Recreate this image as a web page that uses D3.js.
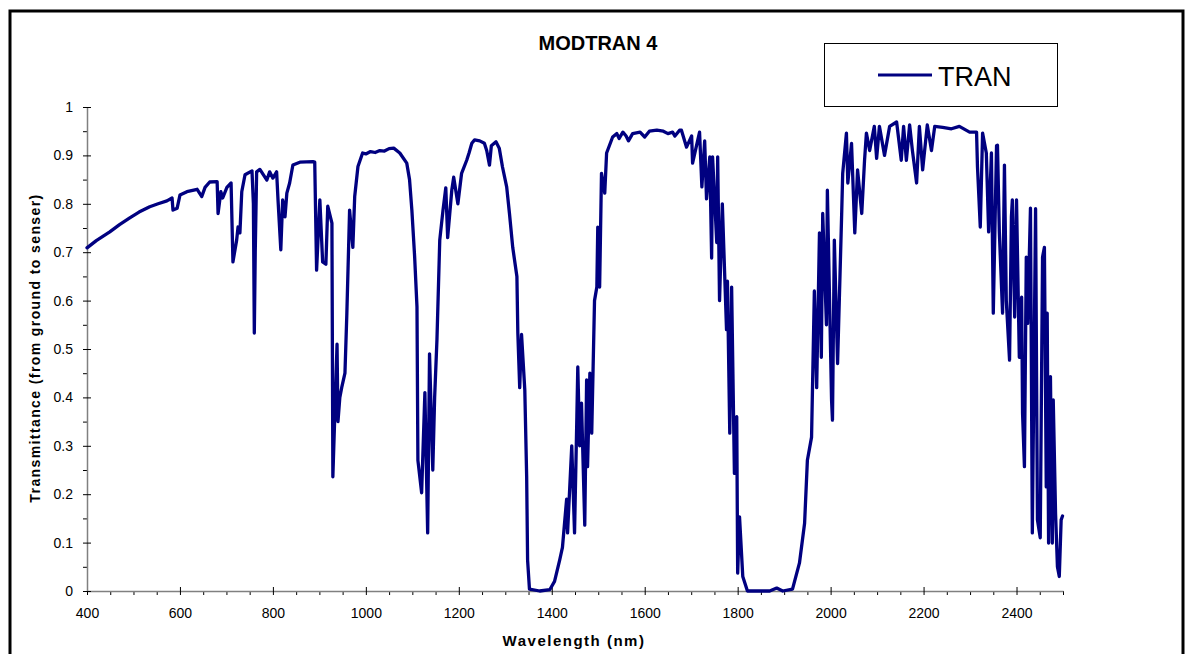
<!DOCTYPE html>
<html>
<head>
<meta charset="utf-8">
<script src="https://cdn.jsdelivr.net/npm/d3@7"></script>
<style>
  html, body { margin: 0; padding: 0; background: #fff; }
  svg { display: block; font-family: "Liberation Sans", Arial, sans-serif; }
</style>
</head>
<body>
<svg id="chart" width="1186" height="654"></svg>
<script>
// MODTRAN 4 transmittance
const wavelength = [
  400, 420, 449, 470, 492, 512, 535, 553, 572, 583, 585, 594, 600, 615, 637, 647, 654, 664, 680, 682, 688, 692, 701, 710,
  714, 722, 725, 729, 733, 740, 755, 758, 760, 762, 765, 772, 787, 793, 800, 808, 811, 817, 821, 826,
  830, 836, 843, 858, 886, 890, 894, 901, 907, 914, 918, 927, 929, 938, 940, 944, 948, 955, 959, 965,
  972, 976, 983, 993, 1000, 1010, 1020, 1030, 1040, 1050, 1060, 1073, 1088, 1094, 1099, 1105, 1110, 1112, 1120, 1127, 1133, 1137, 1144, 1148, 1153,
  1159, 1166, 1172, 1176, 1185, 1189, 1198, 1206, 1217, 1222, 1228, 1234, 1245, 1255, 1260, 1266, 1270, 1280, 1287, 1294, 1303, 1309, 1316, 1325, 1327,
  1331, 1335, 1342, 1346, 1348, 1352, 1374, 1396, 1406, 1417, 1423, 1432, 1434, 1443, 1449, 1454, 1456, 1460, 1464, 1471,
  1475, 1477, 1482, 1486, 1492, 1497, 1499, 1503, 1507, 1514, 1518, 1531, 1540, 1545, 1553, 1560, 1565, 1574, 1590, 1600, 1610, 1626, 1640, 1650, 1660, 1665, 1675, 1679, 1690, 1701,
  1703, 1718, 1723, 1729, 1733, 1740, 1744, 1746, 1755, 1757, 1761, 1767, 1776, 1778, 1783, 1787, 1793, 1798, 1800, 1804,
  1811, 1821, 1869, 1884, 1897, 1918, 1933, 1944, 1950, 1959, 1965, 1970, 1976, 1980, 1983, 1991, 1993, 2002, 2004, 2008,
  2015, 2024, 2026, 2034, 2037, 2045, 2052, 2058, 2067, 2073, 2077, 2084, 2094, 2099, 2105, 2116, 2127, 2142, 2152, 2157,
  2163, 2170, 2176, 2185, 2191, 2198, 2208, 2217, 2224, 2241, 2260, 2277, 2299, 2314, 2316, 2322, 2327, 2335, 2340, 2346, 2350,
  2357, 2359, 2363, 2370, 2374, 2378, 2385, 2389, 2391, 2396, 2400, 2406, 2411, 2413, 2417, 2421, 2424, 2430, 2434, 2441,
  2445, 2451, 2456, 2460, 2464, 2466, 2469, 2473, 2477, 2479, 2484, 2488, 2492, 2496, 2499
];
const transmittance = [
  0.709, 0.724, 0.742, 0.757, 0.771, 0.783, 0.794, 0.800, 0.806, 0.812, 0.787, 0.791, 0.818, 0.825, 0.830, 0.815, 0.834, 0.845, 0.846, 0.780, 0.825, 0.812, 0.834, 0.843,
  0.680, 0.725, 0.752, 0.740, 0.825, 0.860, 0.868, 0.800, 0.533, 0.700, 0.866, 0.871, 0.849, 0.866, 0.853, 0.866, 0.808, 0.705, 0.808, 0.773,
  0.822, 0.843, 0.880, 0.886, 0.887, 0.886, 0.663, 0.808, 0.680, 0.675, 0.795, 0.760, 0.236, 0.510, 0.350, 0.400, 0.420, 0.450, 0.570, 0.787,
  0.710, 0.815, 0.877, 0.905, 0.903, 0.908, 0.906, 0.910, 0.909, 0.914, 0.915, 0.905, 0.884, 0.850, 0.787, 0.690, 0.587, 0.270, 0.203, 0.410, 0.120, 0.490, 0.250, 0.400, 0.520,
  0.725, 0.787, 0.833, 0.730, 0.829, 0.855, 0.800, 0.863, 0.890, 0.905, 0.925, 0.932, 0.930, 0.925, 0.910, 0.880, 0.920, 0.928, 0.915, 0.876, 0.835, 0.780, 0.710, 0.650, 0.533,
  0.420, 0.530, 0.415, 0.236, 0.064, 0.004, 0.000, 0.003, 0.020, 0.064, 0.090, 0.190, 0.120, 0.300, 0.120, 0.360, 0.463, 0.300, 0.388, 0.136,
  0.436, 0.257, 0.450, 0.326, 0.600, 0.628, 0.752, 0.628, 0.863, 0.822, 0.905, 0.938, 0.945, 0.935, 0.948, 0.940, 0.930, 0.945, 0.948, 0.938, 0.950, 0.952, 0.950, 0.945, 0.948, 0.940, 0.952, 0.952, 0.917, 0.940,
  0.884, 0.948, 0.835, 0.930, 0.810, 0.897, 0.688, 0.897, 0.720, 0.897, 0.600, 0.800, 0.540, 0.640, 0.326, 0.628, 0.243, 0.360, 0.037, 0.153,
  0.030, 0.000, 0.000, 0.006, 0.000, 0.004, 0.058, 0.140, 0.270, 0.318, 0.620, 0.420, 0.740, 0.483, 0.780, 0.550, 0.828, 0.395, 0.353, 0.725,
  0.470, 0.787, 0.863, 0.946, 0.843, 0.925, 0.740, 0.870, 0.780, 0.890, 0.946, 0.910, 0.960, 0.894, 0.960, 0.900, 0.960, 0.969, 0.890, 0.960,
  0.890, 0.963, 0.910, 0.843, 0.960, 0.870, 0.963, 0.910, 0.960, 0.958, 0.955, 0.960, 0.948, 0.948, 0.876, 0.752, 0.946, 0.905, 0.742, 0.905, 0.574,
  0.920, 0.921, 0.742, 0.574, 0.880, 0.600, 0.477, 0.773, 0.808, 0.566, 0.808, 0.483, 0.607, 0.367, 0.257, 0.690, 0.553, 0.791, 0.120, 0.790,
  0.147, 0.110, 0.690, 0.710, 0.215, 0.574, 0.099, 0.443, 0.099, 0.395, 0.160, 0.050, 0.030, 0.147, 0.155
];
const xTicks = [400, 600, 800, 1000, 1200, 1400, 1600, 1800, 2000, 2200, 2400];
const yTicks = [0, 0.1, 0.2, 0.3, 0.4, 0.5, 0.6, 0.7, 0.8, 0.9, 1];
const seriesName = 'TRAN';

const data = wavelength.map((w, i) => ({ w, t: transmittance[i] }));

const svg = d3.select('#chart');
const plot = { left: 87, right: 1063, top: 107, bottom: 591 };
const axisColor = '#808080';

// outer frame
svg.append('rect')
  .attr('x', 10).attr('y', 11)
  .attr('width', 1173).attr('height', 700)
  .attr('fill', 'none')
  .attr('stroke', '#000')
  .attr('stroke-width', 3);

const x = d3.scaleLinear().domain([400, 2500]).range([plot.left, plot.right]);
const y = d3.scaleLinear().domain([0, 1]).range([plot.bottom, plot.top]);

// minor ticks
const xMinor = d3.range(450, 2501, 50).filter(v => v % 200 !== 0);
svg.append('g')
  .attr('transform', `translate(0,${plot.bottom})`)
  .call(d3.axisBottom(x).tickValues(xMinor).tickSize(4).tickFormat(''))
  .call(g => g.select('.domain').remove())
  .selectAll('line').attr('stroke', '#000');

const yMinor = d3.range(0.05, 1, 0.1);
svg.append('g')
  .attr('transform', `translate(${plot.left},0)`)
  .call(d3.axisLeft(y).tickValues(yMinor).tickSize(4).tickFormat(''))
  .call(g => g.select('.domain').remove())
  .selectAll('line').attr('stroke', '#000');

// X axis
const xAxis = svg.append('g')
  .attr('transform', `translate(0,${plot.bottom})`)
  .call(d3.axisBottom(x).tickValues(xTicks).tickSize(4).tickSizeOuter(0).tickPadding(13).tickFormat(d3.format('d')));
xAxis.select('.domain').attr('stroke', axisColor).attr('stroke-width', 1.5);
xAxis.selectAll('.tick line').attr('y1', -4).attr('stroke', '#000');
xAxis.selectAll('text').attr('font-size', 14).attr('fill', '#000').attr('font-family', '"Liberation Sans", Arial, sans-serif');

// Y axis
const yAxis = svg.append('g')
  .attr('transform', `translate(${plot.left},0)`)
  .call(d3.axisLeft(y).tickValues(yTicks).tickSize(4).tickSizeOuter(0).tickPadding(10).tickFormat(d => d === 0 || d === 1 ? d : d3.format('.1f')(d)));
yAxis.select('.domain').attr('stroke', axisColor).attr('stroke-width', 1.5);
yAxis.selectAll('.tick line').attr('x1', 4).attr('stroke', '#000');
yAxis.selectAll('text').attr('font-size', 14).attr('fill', '#000').attr('font-family', '"Liberation Sans", Arial, sans-serif');

// the curve
svg.append('path')
  .datum(data)
  .attr('fill', 'none')
  .attr('stroke', '#000080')
  .attr('stroke-width', 3.3)
  .attr('stroke-linejoin', 'round')
  .attr('stroke-linecap', 'round')
  .attr('d', d3.line().x(d => x(d.w)).y(d => y(d.t)));

// title
svg.append('text')
  .attr('x', 598).attr('y', 50)
  .attr('text-anchor', 'middle')
  .attr('font-size', 20).attr('font-weight', 'bold')
  .text('MODTRAN 4');

// axis labels
svg.append('text')
  .attr('x', 574).attr('y', 646)
  .attr('text-anchor', 'middle')
  .attr('font-size', 15).attr('font-weight', 'bold')
  .attr('letter-spacing', 1.5)
  .text('Wavelength (nm)');

svg.append('text')
  .attr('transform', 'translate(40,348) rotate(-90)')
  .attr('text-anchor', 'middle')
  .attr('font-size', 14).attr('font-weight', 'bold')
  .attr('letter-spacing', 1.4)
  .text('Transmittance (from ground to senser)');

// legend
const legend = svg.append('g');
legend.append('rect')
  .attr('x', 824.5).attr('y', 43.5)
  .attr('width', 233).attr('height', 63)
  .attr('fill', '#fff').attr('stroke', '#000').attr('stroke-width', 1);
legend.append('line')
  .attr('x1', 878).attr('x2', 932).attr('y1', 75).attr('y2', 75)
  .attr('stroke', '#000080').attr('stroke-width', 3);
legend.append('text')
  .attr('x', 938).attr('y', 86)
  .attr('font-size', 27)
  .text(seriesName);
</script>
</body>
</html>
